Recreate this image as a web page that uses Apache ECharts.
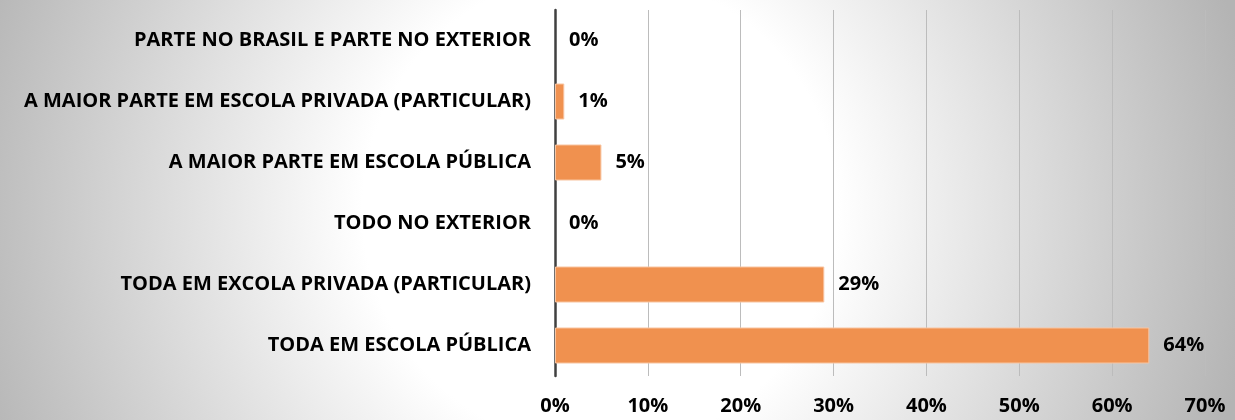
<!DOCTYPE html>
<html>
<head>
<meta charset="utf-8">
<script src="https://cdn.jsdelivr.net/npm/echarts@6/dist/echarts.min.js"></script>
<style>
  html, body { margin: 0; padding: 0; }
  #chart { width: 1235px; height: 420px; }
</style>
</head>
<body>
<div id="chart"></div>
<script>
  // categories listed bottom to top (category axis starts at the bottom)
  var categories = [
    'TODA EM ESCOLA PÚBLICA',
    'TODA EM EXCOLA PRIVADA (PARTICULAR)',
    'TODO NO EXTERIOR',
    'A MAIOR PARTE EM ESCOLA PÚBLICA',
    'A MAIOR PARTE EM ESCOLA PRIVADA (PARTICULAR)',
    'PARTE NO BRASIL E PARTE NO EXTERIOR'
  ];
  var values = [64, 29, 0, 5, 1, 0];
  var xTicks = [0, 10, 20, 30, 40, 50, 60, 70];

  var myChart = echarts.init(document.getElementById('chart'));
  var font = '"Open Sans", sans-serif';
  // zero bars get no border so nothing shows at the axis
  var barData = values.map(function (v) {
    return {value: v, itemStyle: {borderWidth: v === 0 ? 0 : 1}};
  });
  myChart.setOption({
    animation: false,
    backgroundColor: {
      type: 'radial', x: 600, y: 210, r: 660, global: true,
      colorStops: [
        {offset: 0, color: '#ffffff'},
        {offset: 0.36, color: '#ffffff'},
        {offset: 1, color: '#b4b4b4'}
      ]
    },
    grid: {left: 555, right: 30, top: 10, bottom: 44},
    xAxis: {
      type: 'value',
      min: xTicks[0],
      max: xTicks[xTicks.length - 1],
      interval: 10,
      axisLine: {show: false},
      axisTick: {show: false},
      splitLine: {lineStyle: {color: '#bcbcbc', width: 1}},
      axisLabel: {
        margin: 20,
        color: '#000',
        fontFamily: font,
        fontWeight: 'bold',
        fontSize: 20,
        formatter: '{value}%'
      }
    },
    yAxis: {
      type: 'category',
      data: categories,
      axisLine: {lineStyle: {color: '#404040', width: 2.5}},
      axisTick: {show: false},
      axisLabel: {
        margin: 24,
        color: '#000',
        fontFamily: font,
        fontWeight: 'bold',
        fontSize: 20
      }
    },
    series: [{
      type: 'bar',
      data: barData,
      barWidth: 36,
      itemStyle: {color: '#f0914f', borderColor: '#f8c4a0'},
      label: {
        show: true,
        position: 'right',
        distance: 14,
        color: '#000',
        fontFamily: font,
        fontWeight: 'bold',
        fontSize: 20,
        formatter: '{c}%'
      }
    }]
  });
</script>
</body>
</html>
